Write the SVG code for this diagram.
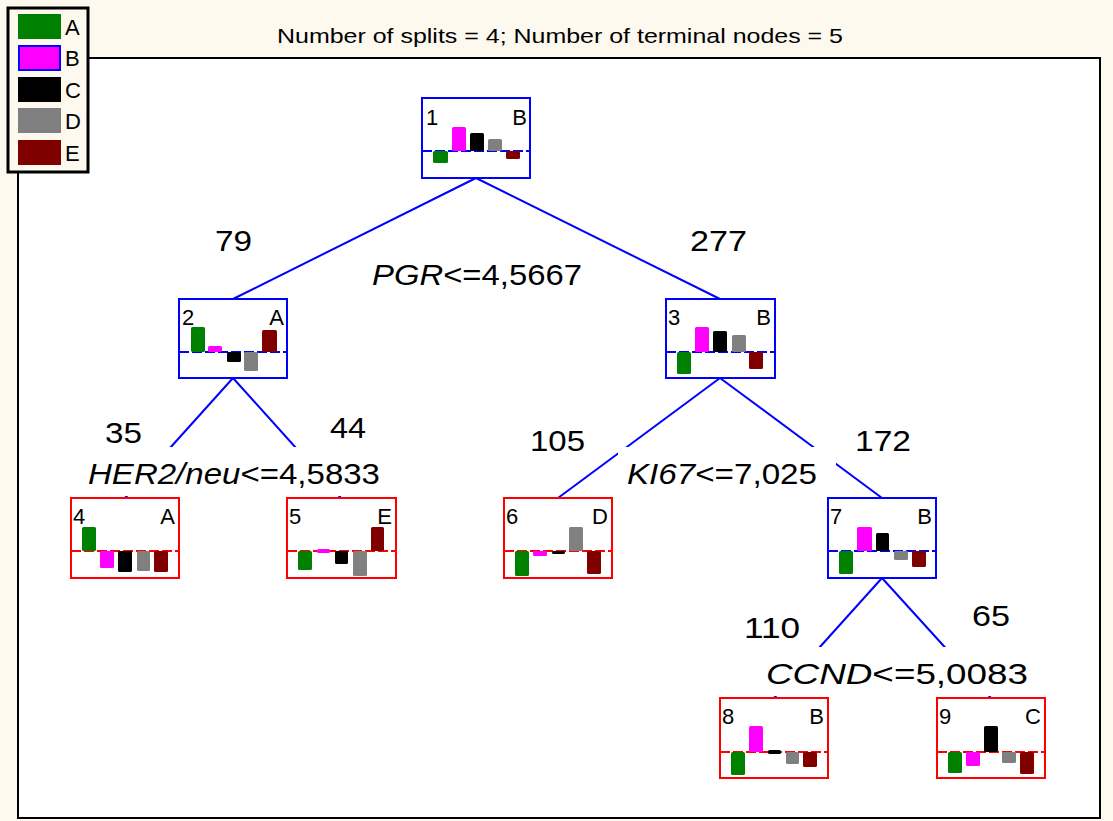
<svg xmlns="http://www.w3.org/2000/svg" width="1113" height="821" viewBox="0 0 1113 821">
<style>
text{font-family:"Liberation Sans",Arial,sans-serif;fill:#000}
.box-i{fill:#fff;stroke:#0000ff;stroke-width:2}
.box-t{fill:#fff;stroke:#ff0000;stroke-width:2}
.base-i{stroke:#0000ff;stroke-width:2;stroke-dasharray:10 3}
.base-t{stroke:#ff0000;stroke-width:2;stroke-dasharray:10 3}
.conn{stroke:#0000ff;stroke-width:2;fill:none}
.nl{font-size:22px}
.cl{font-size:22px;text-anchor:end}
.num{font-size:30px}
.split{font-size:30px}
.lg{font-size:22px}
.a{fill:#008000}.b{fill:#ff00ff}.c{fill:#000}.d{fill:#808080}.e{fill:#800000}
.bar rect{rx:1.5}
</style>
<rect width="1113" height="821" fill="#fdf9ee"/>
<rect x="18" y="58" width="1082" height="760" fill="#fff" stroke="#000" stroke-width="2"/>
<text x="277" y="43" font-size="21" textLength="566" lengthAdjust="spacingAndGlyphs">Number of splits = 4; Number of terminal nodes = 5</text>

<g id="connectors">
<line class="conn" x1="476" y1="178" x2="233" y2="299"/>
<line class="conn" x1="476" y1="178" x2="720" y2="299"/>
<line class="conn" x1="233" y1="378" x2="125" y2="498"/>
<line class="conn" x1="233" y1="378" x2="341" y2="498"/>
<line class="conn" x1="720" y1="378" x2="558" y2="498"/>
<line class="conn" x1="720" y1="378" x2="882" y2="498"/>
<line class="conn" x1="882" y1="578" x2="774" y2="698"/>
<line class="conn" x1="882" y1="578" x2="991" y2="698"/>
</g>

<g id="labels">
<text class="num" x="215" y="251" textLength="37" lengthAdjust="spacingAndGlyphs">79</text>
<text class="num" x="690" y="251" textLength="57" lengthAdjust="spacingAndGlyphs">277</text>
<text class="split" x="372" y="285" textLength="210" lengthAdjust="spacingAndGlyphs"><tspan font-style="italic">PGR</tspan>&lt;=4,5667</text>
<text class="num" x="105" y="443" textLength="37" lengthAdjust="spacingAndGlyphs">35</text>
<text class="num" x="330" y="438" textLength="36" lengthAdjust="spacingAndGlyphs">44</text>
<rect x="80" y="447" width="310" height="49" fill="#fff"/>
<text class="split" x="88" y="484" textLength="292" lengthAdjust="spacingAndGlyphs"><tspan font-style="italic">HER2/neu</tspan>&lt;=4,5833</text>
<text class="num" x="530" y="451" textLength="55" lengthAdjust="spacingAndGlyphs">105</text>
<text class="num" x="855" y="451" textLength="56" lengthAdjust="spacingAndGlyphs">172</text>
<rect x="618" y="447" width="218" height="49" fill="#fff"/>
<text class="split" x="627" y="484" textLength="190" lengthAdjust="spacingAndGlyphs"><tspan font-style="italic">KI67</tspan>&lt;=7,025</text>
<text class="num" x="744" y="638" textLength="56" lengthAdjust="spacingAndGlyphs">110</text>
<text class="num" x="972" y="626" textLength="38" lengthAdjust="spacingAndGlyphs">65</text>
<rect x="758" y="647" width="278" height="49" fill="#fff"/>
<text class="split" x="766" y="684" textLength="262" lengthAdjust="spacingAndGlyphs"><tspan font-style="italic">CCND</tspan>&lt;=5,0083</text>
</g>

<g id="node1">
<rect class="box-i" x="422" y="98" width="108" height="80"/>
<line class="base-i" x1="422" y1="151" x2="530" y2="151"/>
<g class="bar">
<rect class="a" x="433" y="151" width="15" height="12"/>
<rect class="b" x="452" y="127" width="14" height="24"/>
<rect class="c" x="470" y="133" width="14" height="18"/>
<rect class="d" x="488" y="139" width="14" height="12"/>
<rect class="e" x="506" y="151" width="14" height="8"/>
</g>
<text class="nl" x="426" y="125">1</text><text class="cl" x="527" y="125">B</text>
</g>

<g id="node2">
<rect class="box-i" x="179" y="299" width="108" height="79"/>
<line class="base-i" x1="179" y1="352" x2="287" y2="352"/>
<g class="bar">
<rect class="a" x="191" y="327" width="14" height="25"/>
<rect class="b" x="208" y="346" width="14" height="6"/>
<rect class="c" x="227" y="352" width="14" height="10"/>
<rect class="d" x="244" y="352" width="14" height="19"/>
<rect class="e" x="262" y="330" width="15" height="22"/>
</g>
<text class="nl" x="182" y="325">2</text><text class="cl" x="284" y="325">A</text>
</g>

<g id="node3">
<rect class="box-i" x="666" y="299" width="109" height="79"/>
<line class="base-i" x1="666" y1="352" x2="775" y2="352"/>
<g class="bar">
<rect class="a" x="677" y="352" width="14" height="22"/>
<rect class="b" x="695" y="327" width="14" height="25"/>
<rect class="c" x="713" y="331" width="14" height="21"/>
<rect class="d" x="732" y="335" width="14" height="17"/>
<rect class="e" x="749" y="352" width="14" height="17"/>
</g>
<text class="nl" x="668" y="325">3</text><text class="cl" x="771" y="325">B</text>
</g>

<g id="node4">
<rect class="box-t" x="71" y="498" width="108" height="80"/>
<line class="base-t" x1="71" y1="551" x2="179" y2="551"/>
<g class="bar">
<rect class="a" x="82" y="527" width="14" height="24"/>
<rect class="b" x="100" y="551" width="14" height="17"/>
<rect class="c" x="118" y="551" width="14" height="21"/>
<rect class="d" x="137" y="551" width="13" height="20"/>
<rect class="e" x="154" y="551" width="14" height="21"/>
</g>
<text class="nl" x="73" y="524">4</text><text class="cl" x="175" y="524">A</text>
</g>

<g id="node5">
<rect class="box-t" x="287" y="498" width="109" height="80"/>
<line class="base-t" x1="287" y1="551" x2="396" y2="551"/>
<g class="bar">
<rect class="a" x="298" y="551" width="14" height="19"/>
<rect class="b" x="317" y="549" width="13" height="4"/>
<rect class="c" x="335" y="551" width="13" height="13"/>
<rect class="d" x="353" y="551" width="14" height="25"/>
<rect class="e" x="371" y="527" width="13" height="24"/>
</g>
<text class="nl" x="289" y="524">5</text><text class="cl" x="392" y="524">E</text>
</g>

<g id="node6">
<rect class="box-t" x="504" y="498" width="108" height="80"/>
<line class="base-t" x1="504" y1="551" x2="612" y2="551"/>
<g class="bar">
<rect class="a" x="515" y="551" width="14" height="25"/>
<rect class="b" x="533" y="551" width="14" height="5"/>
<rect class="c" x="552" y="551" width="13" height="3"/>
<rect class="d" x="569" y="527" width="14" height="24"/>
<rect class="e" x="587" y="551" width="14" height="23"/>
</g>
<text class="nl" x="506" y="524">6</text><text class="cl" x="608" y="524">D</text>
</g>

<g id="node7">
<rect class="box-i" x="828" y="498" width="108" height="80"/>
<line class="base-i" x1="828" y1="551" x2="936" y2="551"/>
<g class="bar">
<rect class="a" x="839" y="551" width="14" height="23"/>
<rect class="b" x="857" y="527" width="15" height="24"/>
<rect class="c" x="876" y="533" width="13" height="18"/>
<rect class="d" x="894" y="551" width="14" height="9"/>
<rect class="e" x="912" y="551" width="14" height="16"/>
</g>
<text class="nl" x="830" y="524">7</text><text class="cl" x="932" y="524">B</text>
</g>

<g id="node8">
<rect class="box-t" x="720" y="698" width="108" height="80"/>
<line class="base-t" x1="720" y1="752" x2="828" y2="752"/>
<g class="bar">
<rect class="a" x="731" y="752" width="14" height="23"/>
<rect class="b" x="749" y="726" width="14" height="26"/>
<rect class="c" x="768" y="750" width="13" height="4"/>
<rect class="d" x="786" y="752" width="13" height="12"/>
<rect class="e" x="803" y="752" width="14" height="15"/>
</g>
<text class="nl" x="722" y="724">8</text><text class="cl" x="824" y="724">B</text>
</g>

<g id="node9">
<rect class="box-t" x="937" y="698" width="108" height="80"/>
<line class="base-t" x1="937" y1="752" x2="1045" y2="752"/>
<g class="bar">
<rect class="a" x="948" y="752" width="14" height="21"/>
<rect class="b" x="966" y="752" width="14" height="14"/>
<rect class="c" x="984" y="726" width="14" height="26"/>
<rect class="d" x="1002" y="752" width="14" height="11"/>
<rect class="e" x="1020" y="752" width="14" height="22"/>
</g>
<text class="nl" x="939" y="724">9</text><text class="cl" x="1041" y="724">C</text>
</g>

<g id="legend">
<rect x="8" y="8" width="80" height="164" fill="#fdf9ee" stroke="#000" stroke-width="3"/>
<rect class="a" x="18" y="14" width="43" height="25"/>
<rect class="b" x="19" y="46" width="41" height="24" stroke="#0000ff" stroke-width="2"/>
<rect class="c" x="18" y="77" width="43" height="25"/>
<rect class="d" x="18" y="108" width="43" height="25"/>
<rect class="e" x="18" y="140" width="43" height="25"/>
<text class="lg" x="65" y="35">A</text>
<text class="lg" x="65" y="66">B</text>
<text class="lg" x="65" y="98">C</text>
<text class="lg" x="65" y="129">D</text>
<text class="lg" x="65" y="161">E</text>
</g>
</svg>
